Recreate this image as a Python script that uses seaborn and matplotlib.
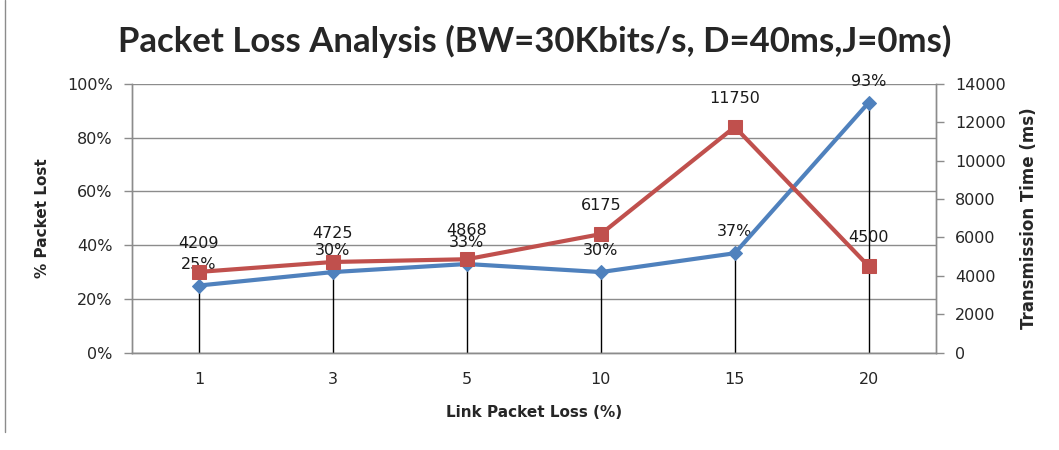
import numpy as np
import pandas as pd
import matplotlib
matplotlib.use("Agg")
import matplotlib.pyplot as plt
import seaborn as sns
from matplotlib.ticker import PercentFormatter

link_loss = ["1", "3", "5", "10", "15", "20"]
pct_lost = [25, 30, 33, 30, 37, 93]
trans_time = [4209, 4725, 4868, 6175, 11750, 4500]

BLUE = "#4F81BD"
RED = "#C0504D"

df = pd.DataFrame({
    "pos": np.arange(len(link_loss)),
    "link_loss": link_loss,
    "pct_lost": pct_lost,
    "trans_time": trans_time,
})

sns.set_style("white")
plt.rcParams["font.family"] = ["DejaVu Sans"]

fig = plt.figure(figsize=(10.59, 4.5), dpi=100)
ax = fig.add_axes([0.1246, 0.216, 0.759, 0.598])
ax2 = ax.twinx()

# left axis: % packet lost
ax.set_ylim(0, 100)
ax.set_xlim(-0.5, len(link_loss) - 0.5)
ax.yaxis.set_major_formatter(PercentFormatter(decimals=0))
ax.set_yticks(np.arange(0, 101, 20))
ax.grid(axis="y", color="#8c8c8c", linewidth=1)
ax.set_axisbelow(True)

# drop lines from the blue series
ax.vlines(df["pos"], 0, df["pct_lost"], color="black", linewidth=1, zorder=2)

sns.lineplot(data=df, x="pos", y="pct_lost", ax=ax, color=BLUE, linewidth=3,
             marker="D", markersize=7, markeredgecolor=BLUE, zorder=4)

# right axis: transmission time
ax2.set_ylim(0, 14000)
ax2.set_yticks(np.arange(0, 14001, 2000))
sns.lineplot(data=df, x="pos", y="trans_time", ax=ax2, color=RED, linewidth=3,
             marker="s", markersize=10, markeredgecolor=RED, zorder=3)

for p, v in zip(df["pos"], df["pct_lost"]):
    ax.annotate(f"{v}%", (p, v), xytext=(0, 10), textcoords="offset points",
                ha="center", va="bottom", fontsize=11.5, color="#1a1a1a")
for p, v in zip(df["pos"], df["trans_time"]):
    ax2.annotate(f"{v}", (p, v), xytext=(0, 15), textcoords="offset points",
                 ha="center", va="bottom", fontsize=11.5, color="#1a1a1a")

ax.set_xticks(df["pos"])
ax.set_xticklabels(link_loss)
ax.tick_params(axis="x", length=0, pad=14, labelsize=11.5)
ax.tick_params(axis="y", direction="out", length=6, width=1, color="#8c8c8c",
               labelsize=11.5, pad=8, left=True)
ax2.tick_params(axis="y", direction="out", length=6, width=1, color="#8c8c8c",
                labelsize=11.5, pad=8, right=True)

for a in (ax, ax2):
    for s in a.spines.values():
        s.set_color("#8c8c8c")
        s.set_linewidth(1)
    a.spines["top"].set_visible(False)

ax.set_xlabel("Link Packet Loss (%)", fontsize=11, fontweight="bold", labelpad=13)
ax.set_ylabel("% Packet Lost", fontsize=11, fontweight="bold", labelpad=12)
ax2.set_ylabel("Transmission Time (ms)", fontsize=12, fontweight="bold", labelpad=10)

fig.suptitle("Packet Loss Analysis (BW=30Kbits/s, D=40ms,J=0ms)",
             x=0.505, y=0.945, fontsize=25, fontweight="bold",
             family=["Lato", "DejaVu Sans"])

# left edge frame line
fig.add_artist(plt.Line2D([0.005, 0.005], [0.04, 1.0], color="#8c8c8c", linewidth=1))

fig.savefig("out.png", dpi=100)
